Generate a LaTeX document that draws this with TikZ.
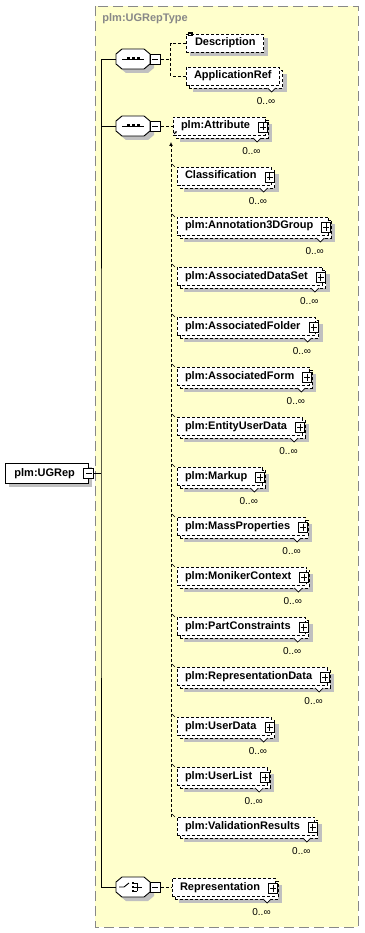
\documentclass[tikz,border=0pt]{standalone}
\usepackage{fontspec}
\setmainfont{Liberation Sans}
\usetikzlibrary{arrows.meta,positioning,shadows}
\definecolor{groupfill}{RGB}{255,255,204}
\definecolor{groupline}{RGB}{136,136,136}
\definecolor{shadowgray}{RGB}{192,192,192}

\begin{document}
\begin{tikzpicture}[x=1pt, y=-1pt, line width=0.9pt,
  groupbox/.style={draw=groupline, fill=groupfill, dash pattern=on 10pt off 5pt},
  typename/.style={font=\fontsize{11}{13}\selectfont\bfseries, text=groupline, inner sep=0pt, anchor=west},
  elem/.style={draw, dash pattern=on 3pt off 2pt, fill=white, anchor=west, font=\fontsize{11}{13}\selectfont\bfseries, text height=8pt, text depth=2pt, inner ysep=4pt, inner xsep=8pt, minimum height=18pt, outer sep=0pt},
  complex/.style={elem, execute at end node={\hspace*{7pt}}},
  single/.style={general shadow={shadow xshift=4pt, shadow yshift=-4pt, fill=shadowgray}},
  multi/.style={general shadow={shadow xshift=7pt, shadow yshift=-7pt, fill=shadowgray},
    general shadow={shadow xshift=3pt, shadow yshift=-3pt, fill=white, draw, dash pattern=on 3pt off 2pt}},
  rootbox/.style={draw, fill=white, font=\fontsize{11}{13}\selectfont\bfseries, text height=8pt, text depth=2pt, inner ysep=5pt, inner xsep=9pt, minimum height=20pt, anchor=west, execute at end node={\hspace*{4pt}}},
  compositor/.style={inner sep=0pt, minimum width=34pt, minimum height=20pt, outer sep=0pt},
  minusbox/.style={draw, fill=white, inner sep=0pt, minimum width=10pt, minimum height=10pt,
    path picture={\draw ([xshift=2pt]path picture bounding box.west) -- ([xshift=-2pt]path picture bounding box.east);}},
  plusbox/.style={draw, solid, fill=white, inner sep=0pt, minimum width=9pt, minimum height=10pt,
    path picture={\draw ([xshift=1.5pt]path picture bounding box.west) -- ([xshift=-1.5pt]path picture bounding box.east)
      ([yshift=-1.5pt]path picture bounding box.north) -- ([yshift=1.5pt]path picture bounding box.south);}},
  mult/.style={font=\fontsize{10}{12}\selectfont, inner sep=0pt},
  conn/.style={dash pattern=on 3pt off 2pt}
]
\fill[white] (0,0) rectangle (364,933);
\useasboundingbox (0,0) rectangle (364,933);

% complex type frame
\draw[groupbox] (95,6) rectangle (358,927);
\node[typename] (tname) at (102,19) {plm:UGRepType};

% root element
\node[rootbox, single] (ugrep) at (5,473) {plm:UGRep};
\node[minusbox, right=-5pt of ugrep] (ugrep-min) {};

% compositors
\node[compositor] (seqa) at (133,59) {};
\node[compositor] (seqb) at (133,126) {};
\node[compositor] (choice) at (133,887) {};
\foreach \s in {seqa,seqb,choice} {
  \fill[shadowgray, transform canvas={shift={(4pt,-4pt)}}] ([xshift=6pt]\s.north west) -- ([xshift=-6pt]\s.north east)
    -- ([yshift=-5pt]\s.north east) -- ([yshift=5pt]\s.south east) -- ([xshift=-6pt]\s.south east)
    -- ([xshift=6pt]\s.south west) -- ([yshift=5pt]\s.south west) -- ([yshift=-5pt]\s.north west) -- cycle;
  \draw[fill=white] ([xshift=6pt]\s.north west) -- ([xshift=-6pt]\s.north east)
    -- ([yshift=-5pt]\s.north east) -- ([yshift=5pt]\s.south east) -- ([xshift=-6pt]\s.south east)
    -- ([xshift=6pt]\s.south west) -- ([yshift=5pt]\s.south west) -- ([yshift=-5pt]\s.north west) -- cycle;
}
\node[minusbox, right=0pt of seqa] (seqa-min) {};
\node[minusbox, right=0pt of seqb] (seqb-min) {};
\node[minusbox, right=0pt of choice] (choice-min) {};

\foreach \s in {seqa,seqb} {
  \draw ([xshift=-11pt]\s.center) -- ([xshift=11pt]\s.center);
  \foreach \dx in {-5,0,5}
    \fill ([xshift=\dx pt]\s.center) +(-1.5pt,-1.5pt) rectangle +(1.5pt,1.5pt);
}
\draw ([xshift=-14pt]choice.center) -- ([xshift=-9pt]choice.center) -- ([xshift=-4pt,yshift=4pt]choice.center);
\foreach \dy in {-4,0,4} {
  \fill ([xshift=0pt,yshift=\dy pt]choice.center) +(-1.3pt,-1.3pt) rectangle +(1.3pt,1.3pt);
  \draw ([xshift=0pt,yshift=\dy pt]choice.center) -- ([xshift=4pt,yshift=\dy pt]choice.center);
}
\draw ([xshift=4pt,yshift=-4pt]choice.center) -- ([xshift=4pt,yshift=4pt]choice.center);
\draw ([xshift=4pt]choice.center) -- ([xshift=9pt]choice.center);

% first sequence
\node[elem, single] (desc) at (186,43) {\hspace*{1pt}Description};
\node[elem, multi] (appref) at (186,76) {ApplicationRef};
\foreach \dy in {0,1.6,3.2}
  \draw[solid, line width=0.6pt] ([xshift=2pt,yshift=2pt-\dy pt]desc.north west) -- ++(5pt,0);

% second sequence
\node[complex, multi] (attr) at (173,126) {plm:Attribute};
\node[complex, multi, below=32pt of attr.south west, anchor=north west, xshift=4pt] (classif) {Classification};
\node[complex, multi, below=32pt of classif.south west, anchor=north west] (annot) {plm:Annotation3DGroup};
\node[complex, multi, below=32pt of annot.south west, anchor=north west] (dataset) {plm:AssociatedDataSet};
\node[complex, multi, below=32pt of dataset.south west, anchor=north west] (folder) {plm:AssociatedFolder};
\node[complex, multi, below=32pt of folder.south west, anchor=north west] (form) {plm:AssociatedForm};
\node[complex, multi, below=32pt of form.south west, anchor=north west] (eud) {plm:EntityUserData};
\node[complex, multi, below=32pt of eud.south west, anchor=north west] (markup) {plm:Markup};
\node[complex, multi, below=32pt of markup.south west, anchor=north west] (mass) {plm:MassProperties};
\node[complex, multi, below=32pt of mass.south west, anchor=north west] (moniker) {plm:MonikerContext};
\node[complex, multi, below=32pt of moniker.south west, anchor=north west] (partc) {plm:PartConstraints};
\node[complex, multi, below=32pt of partc.south west, anchor=north west] (repdata) {plm:RepresentationData};
\node[complex, multi, below=32pt of repdata.south west, anchor=north west] (udata) {plm:UserData};
\node[complex, multi, below=32pt of udata.south west, anchor=north west] (ulist) {plm:UserList};
\node[complex, multi, below=32pt of ulist.south west, anchor=north west] (valres) {plm:ValidationResults};

% choice
\node[complex, multi] (repr) at (172,887) {Representation};

% expand boxes
\foreach \n in {attr,classif,annot,dataset,folder,form,eud,markup,mass,moniker,partc,repdata,udata,ulist,valres,repr}
  \node[plusbox] (p-\n) at ([xshift=-2pt,yshift=-1pt]\n.east) {};

% occurrence marks
\foreach \n in {appref,attr,classif,annot,dataset,folder,form,eud,markup,mass,moniker,partc,repdata,udata,ulist,valres,repr} {
  \draw[solid, fill=white, line width=0.7pt] ([xshift=-12pt,yshift=-3pt]\n.south east) -- ++(4pt,-4pt) -- ++(4pt,4pt);
  \node[mult, below left=12pt and 4pt of \n.south east] (m-\n) {0..∞};
}

% connectors
\coordinate (bus) at (101,473);
\draw (ugrep-min.east) -- (bus);
\draw (seqa.west) -| (bus) |- (choice.west);
\draw (seqb.west) -- (seqb.west -| bus);

\draw[conn] (seqa-min.east) -- ++(10pt,0) coordinate (ja);
\draw[conn] (desc.west) -| (ja) |- (appref.west);

\draw[conn] (seqb-min.east) -- (attr.west);
\coordinate (jb) at (171,142);
\draw[conn, -{Latex[length=4pt,width=4pt]}] (jb |- valres.north west) -- (jb);
\foreach \n in {classif,annot,dataset,folder,form,eud,markup,mass,moniker,partc,repdata,udata,ulist,valres}
  \draw[line width=0.6pt] ([xshift=-5pt,yshift=3pt]\n.north west) -- ([xshift=-2pt,yshift=0pt]\n.north west);
\draw[-{Latex[length=2.5pt,width=2.5pt]}, line width=0.8pt] ([xshift=1pt,yshift=1pt]attr.south west) -- ++(3pt,3pt);

\draw[conn] (choice-min.east) -- (repr.west);
\end{tikzpicture}
\end{document}
